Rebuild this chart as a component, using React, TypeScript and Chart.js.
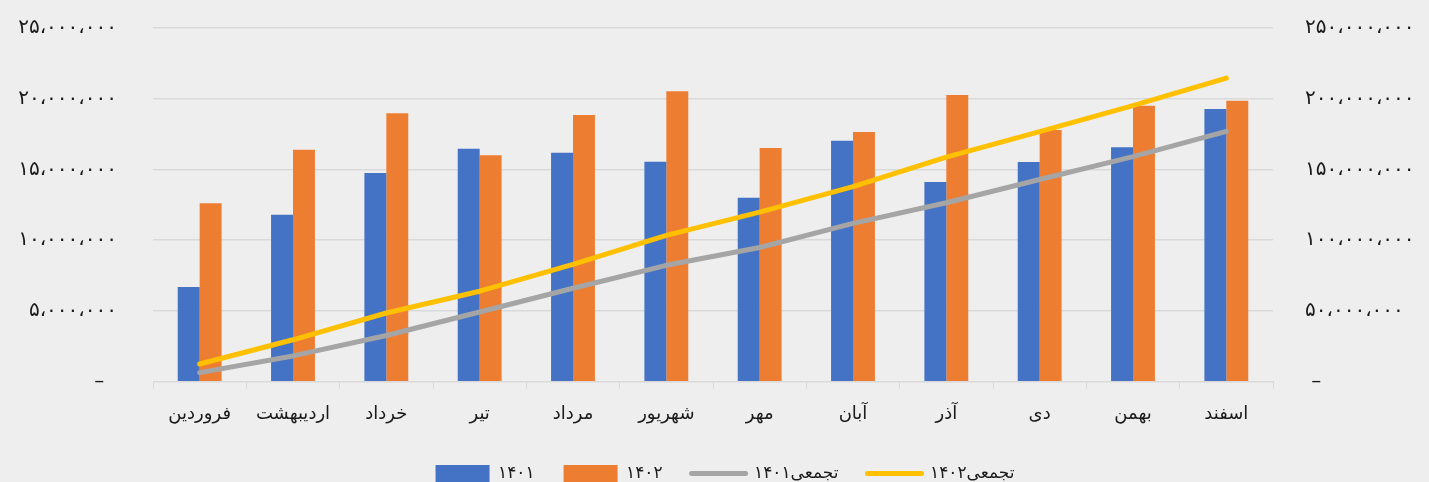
import React, { useEffect, useRef } from 'react';
import { Chart, registerables } from 'chart.js';

Chart.register(...registerables);

const months = ['فروردین', 'اردیبهشت', 'خرداد', 'تیر', 'مرداد', 'شهریور', 'مهر', 'آبان', 'آذر', 'دی', 'بهمن', 'اسفند'];

const sales1401 = [6690000, 11790000, 14740000, 16450000, 16170000, 15540000, 12990000, 17020000, 14100000, 15520000, 16550000, 19260000];
const sales1402 = [12600000, 16380000, 18950000, 15990000, 18830000, 20510000, 16500000, 17630000, 20240000, 17780000, 19490000, 19840000];
const cum1401 = [6400000, 18200000, 32600000, 49200000, 66000000, 82200000, 94800000, 111800000, 126400000, 142800000, 159000000, 176800000];
const cum1402 = [12500000, 29600000, 48500000, 63900000, 82800000, 103300000, 119800000, 137800000, 158600000, 176600000, 195000000, 214400000];

const leftTickValues = [0, 5000000, 10000000, 15000000, 20000000, 25000000];
const leftTickLabels = ['–  ', '۵،۰۰۰،۰۰۰', '۱۰،۰۰۰،۰۰۰', '۱۵،۰۰۰،۰۰۰', '۲۰،۰۰۰،۰۰۰', '۲۵،۰۰۰،۰۰۰'];
const rightTickValues = [0, 50000000, 100000000, 150000000, 200000000, 250000000];
const rightTickLabels = [' –', '۵۰،۰۰۰،۰۰۰', '۱۰۰،۰۰۰،۰۰۰', '۱۵۰،۰۰۰،۰۰۰', '۲۰۰،۰۰۰،۰۰۰', '۲۵۰،۰۰۰،۰۰۰'];

const seriesLabels = ['۱۴۰۱', '۱۴۰۲', 'تجمعی۱۴۰۱', 'تجمعی۱۴۰۲'];

const FONT = '"DejaVu Sans", sans-serif';
const CANVAS_W = 1470;
const CANVAS_H = 492;
const PLOT_LEFT = 153;
const PLOT_RIGHT = 1273;
const PLOT_TOP = 27.7;
const PLOT_BOTTOM = 381.7;
const LEGEND_TOP = 436;
const LEGEND_SHIFT = -10;

const pinLayout = {
  id: 'pinLayout',
  afterLayout(chart: any) {
    if (chart.legend) {
      chart.legend.left += LEGEND_SHIFT;
      chart.legend.right += LEGEND_SHIFT;
    }
  },
};

export default function App() {
  const ref = useRef<HTMLCanvasElement | null>(null);

  useEffect(() => {
    if (!ref.current) return;
    const chart = new Chart(ref.current, {
      type: 'bar',
      plugins: [pinLayout],
      data: {
        labels: months,
        datasets: [
          {
            type: 'bar',
            label: seriesLabels[0],
            data: sales1401,
            backgroundColor: '#4472C4',
            borderWidth: 0,
            yAxisID: 'y',
            order: 1,
            categoryPercentage: 0.47,
            barPercentage: 1,
          },
          {
            type: 'bar',
            label: seriesLabels[1],
            data: sales1402,
            backgroundColor: '#ED7D31',
            borderWidth: 0,
            yAxisID: 'y',
            order: 1,
            categoryPercentage: 0.47,
            barPercentage: 1,
          },
          {
            type: 'line',
            label: seriesLabels[2],
            data: cum1401,
            borderColor: '#A5A5A5',
            backgroundColor: '#A5A5A5',
            borderWidth: 5,
            borderCapStyle: 'round',
            borderJoinStyle: 'round',
            pointRadius: 0,
            tension: 0,
            yAxisID: 'y1',
            order: 0,
          },
          {
            type: 'line',
            label: seriesLabels[3],
            data: cum1402,
            borderColor: '#FFC000',
            backgroundColor: '#FFC000',
            borderWidth: 5,
            borderCapStyle: 'round',
            borderJoinStyle: 'round',
            pointRadius: 0,
            tension: 0,
            yAxisID: 'y1',
            order: 0,
          },
        ],
      },
      options: {
        animation: false,
        responsive: true,
        maintainAspectRatio: false,
        layout: { padding: { top: PLOT_TOP, left: 0, right: 0, bottom: 0 } },
        plugins: {
          tooltip: { enabled: false },
          legend: {
            position: 'bottom',
            labels: {
              font: { family: FONT, size: 17 },
              color: '#1a1a1a',
              usePointStyle: true,
              pointStyleWidth: 54,
              boxHeight: 17,
              padding: 29,
              sort: (a: any, b: any) => a.datasetIndex - b.datasetIndex,
              generateLabels: (ch: any) => {
                const items = Chart.defaults.plugins.legend.labels.generateLabels(ch);
                return items.map((it: any) => {
                  const ds = ch.data.datasets[it.datasetIndex];
                  if (ds.type === 'line') {
                    return { ...it, pointStyle: 'line', lineWidth: 5, strokeStyle: ds.borderColor, lineCap: 'round' };
                  }
                  return { ...it, pointStyle: 'rect', lineWidth: 0, fillStyle: ds.backgroundColor, strokeStyle: ds.backgroundColor };
                });
              },
            },
          },
        },
        scales: {
          x: {
            offset: true,
            grid: {
              offset: true,
              drawOnChartArea: false,
              drawTicks: true,
              tickLength: 7,
              color: '#d9d9d9',
            },
            border: { display: true, color: '#d9d9d9', width: 1 },
            ticks: {
              font: { family: FONT, size: 18 },
              color: '#1a1a1a',
              padding: 15,
              maxRotation: 0,
              autoSkip: false,
            },
            afterFit: (scale: any) => {
              scale.height = LEGEND_TOP - PLOT_BOTTOM;
            },
          },
          y: {
            position: 'left',
            min: 0,
            max: 25000000,
            afterBuildTicks: (scale: any) => {
              scale.ticks = leftTickValues.map((v) => ({ value: v }));
            },
            grid: { color: '#d9d9d9', drawTicks: false, lineWidth: 1.5 },
            border: { display: false },
            ticks: {
              font: { family: FONT, size: 20 },
              color: '#1a1a1a',
              padding: 36,
              callback: (_v: any, i: number) => leftTickLabels[i],
            },
            afterFit: (scale: any) => {
              scale.width = PLOT_LEFT;
              scale.paddingTop = 0;
              scale.paddingBottom = 0;
            },
          },
          y1: {
            position: 'right',
            min: 0,
            max: 250000000,
            afterBuildTicks: (scale: any) => {
              scale.ticks = rightTickValues.map((v) => ({ value: v }));
            },
            grid: { drawOnChartArea: false, drawTicks: false },
            border: { display: false },
            ticks: {
              font: { family: FONT, size: 20 },
              color: '#1a1a1a',
              padding: 32,
              callback: (_v: any, i: number) => rightTickLabels[i],
            },
            afterFit: (scale: any) => {
              scale.width = CANVAS_W - PLOT_RIGHT;
              scale.paddingTop = 0;
              scale.paddingBottom = 0;
            },
          },
        },
      },
    });
    return () => chart.destroy();
  }, []);

  return (
    <div
      style={{
        position: 'fixed',
        left: 0,
        top: 0,
        width: 1429,
        height: 482,
        overflow: 'hidden',
        background: '#eeeeee',
      }}
    >
      <div style={{ position: 'absolute', left: 0, top: 0, width: CANVAS_W, height: CANVAS_H }}>
        <canvas ref={ref} />
      </div>
    </div>
  );
}
